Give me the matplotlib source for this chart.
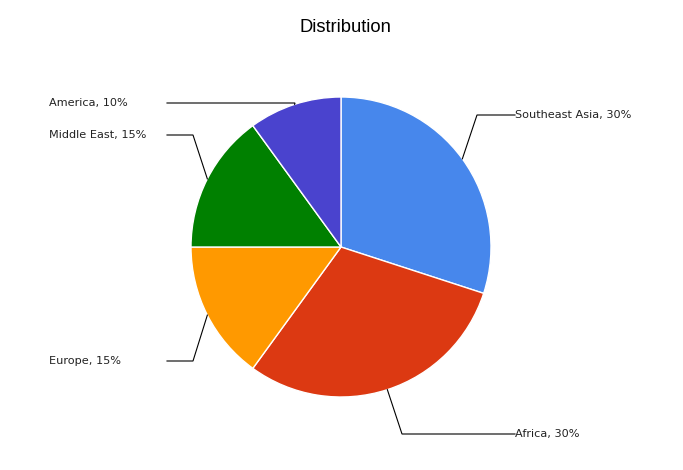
import numpy as np
import matplotlib.pyplot as plt

# data
categories = ['Southeast Asia', 'Africa', 'Europe', 'Middle East', 'America']
values = [30, 30, 15, 15, 10]
colors = ['#4787EC', '#DC3912', '#FF9900', '#008000', '#4A43CE']

# label layout (pixels, y measured from top)
label_y = [115, 434, 361, 135, 103]
elbow_x = [477, 402, 193, 193, 295]
anchor_deg = [54, 162, 243, 297, 342]   # clockwise from 12 o'clock

W, H = 683, 470
cx, cy, r = 341, H - 247, 150

fig = plt.figure(figsize=(W / 100, H / 100), dpi=100)
ax = fig.add_axes([0, 0, 1, 1])

ax.pie(values, colors=colors, startangle=90, counterclock=False,
       center=(cx, cy), radius=r,
       wedgeprops=dict(edgecolor='white', linewidth=1))
ax.set_xlim(0, W)
ax.set_ylim(0, H)
ax.set_aspect('equal')
ax.axis('off')

total = sum(values)
for i, name in enumerate(categories):
    pct = values[i] / total * 100
    a = np.radians(anchor_deg[i])
    ax_x = cx + r * np.sin(a)
    ax_y = cy + r * np.cos(a)
    ly = H - label_y[i]
    right = anchor_deg[i] < 180
    end_x = 515 if right else 167
    ax.plot([ax_x, elbow_x[i], end_x], [ax_y, ly, ly], color='black', lw=0.8,
            solid_joinstyle='miter')
    txt = f'{name}, {pct:.0f}%'
    tx = 515 if right else 49
    ax.text(tx, ly, txt, ha='left', va='center', fontsize=8.1,
            color='#222222', family='DejaVu Sans')

ax.text(345, H - 27, 'Distribution', ha='center', va='center', fontsize=13.2,
        color='black', family='Liberation Sans')

fig.savefig('out.png', dpi=100, facecolor='white')
